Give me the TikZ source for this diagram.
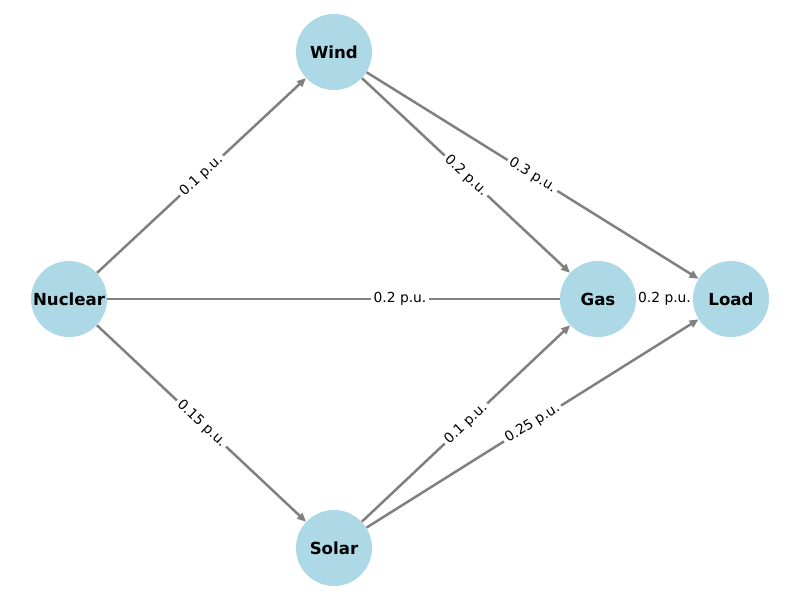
\documentclass[tikz,border=0pt]{standalone}
\usepackage{fontspec}
\setmainfont{DejaVu Sans}
\usetikzlibrary{arrows.meta,backgrounds}
\definecolor{busfill}{RGB}{173,216,230}
\definecolor{flowline}{RGB}{128,128,128}
\tikzset{bus/.style={circle,fill=busfill,minimum size=0.76in,inner sep=0pt,
 font=\fontsize{12}{14}\selectfont\bfseries},
 flow/.style={-{Triangle[length=6.5pt,width=5.5pt]},line width=1.8pt,draw=flowline},
 flowlabel/.style={fill=white,inner sep=2pt,sloped,font=\fontsize{10}{12}\selectfont}}

\begin{document}
\begin{tikzpicture}[x=0.01in,y=-0.01in]
\useasboundingbox (0,0) rectangle (800,600);
\node[bus] (nuclear) at (69,299) {Nuclear};
\node[bus] (wind) at (334,52) {Wind};
\node[bus] (gas) at (598,299) {Gas};
\node[bus] (load) at (731,299) {Load};
\node[bus] (solar) at (334,548) {Solar};
% flows drawn behind the buses
\begin{pgfonlayer}{background}
\draw[flow] (nuclear)--(wind) node[flowlabel,midway] {0.1 p.u.};
\draw[flow] (nuclear)--(solar) node[flowlabel,midway] {0.15 p.u.};
\draw[flow] (nuclear)--(load) node[flowlabel,midway] {0.2 p.u.};
\draw[flow] (wind)--(gas) node[flowlabel,midway] {0.2 p.u.};
\draw[flow] (wind)--(load) node[flowlabel,midway] {0.3 p.u.};
\draw[flow] (solar)--(gas) node[flowlabel,midway] {0.1 p.u.};
\draw[flow] (solar)--(load) node[flowlabel,midway] {0.25 p.u.};
\draw[flow] (gas)--(load) node[flowlabel,midway,inner xsep=3pt] {0.2 p.u.};
\end{pgfonlayer}
\end{tikzpicture}
\end{document}
